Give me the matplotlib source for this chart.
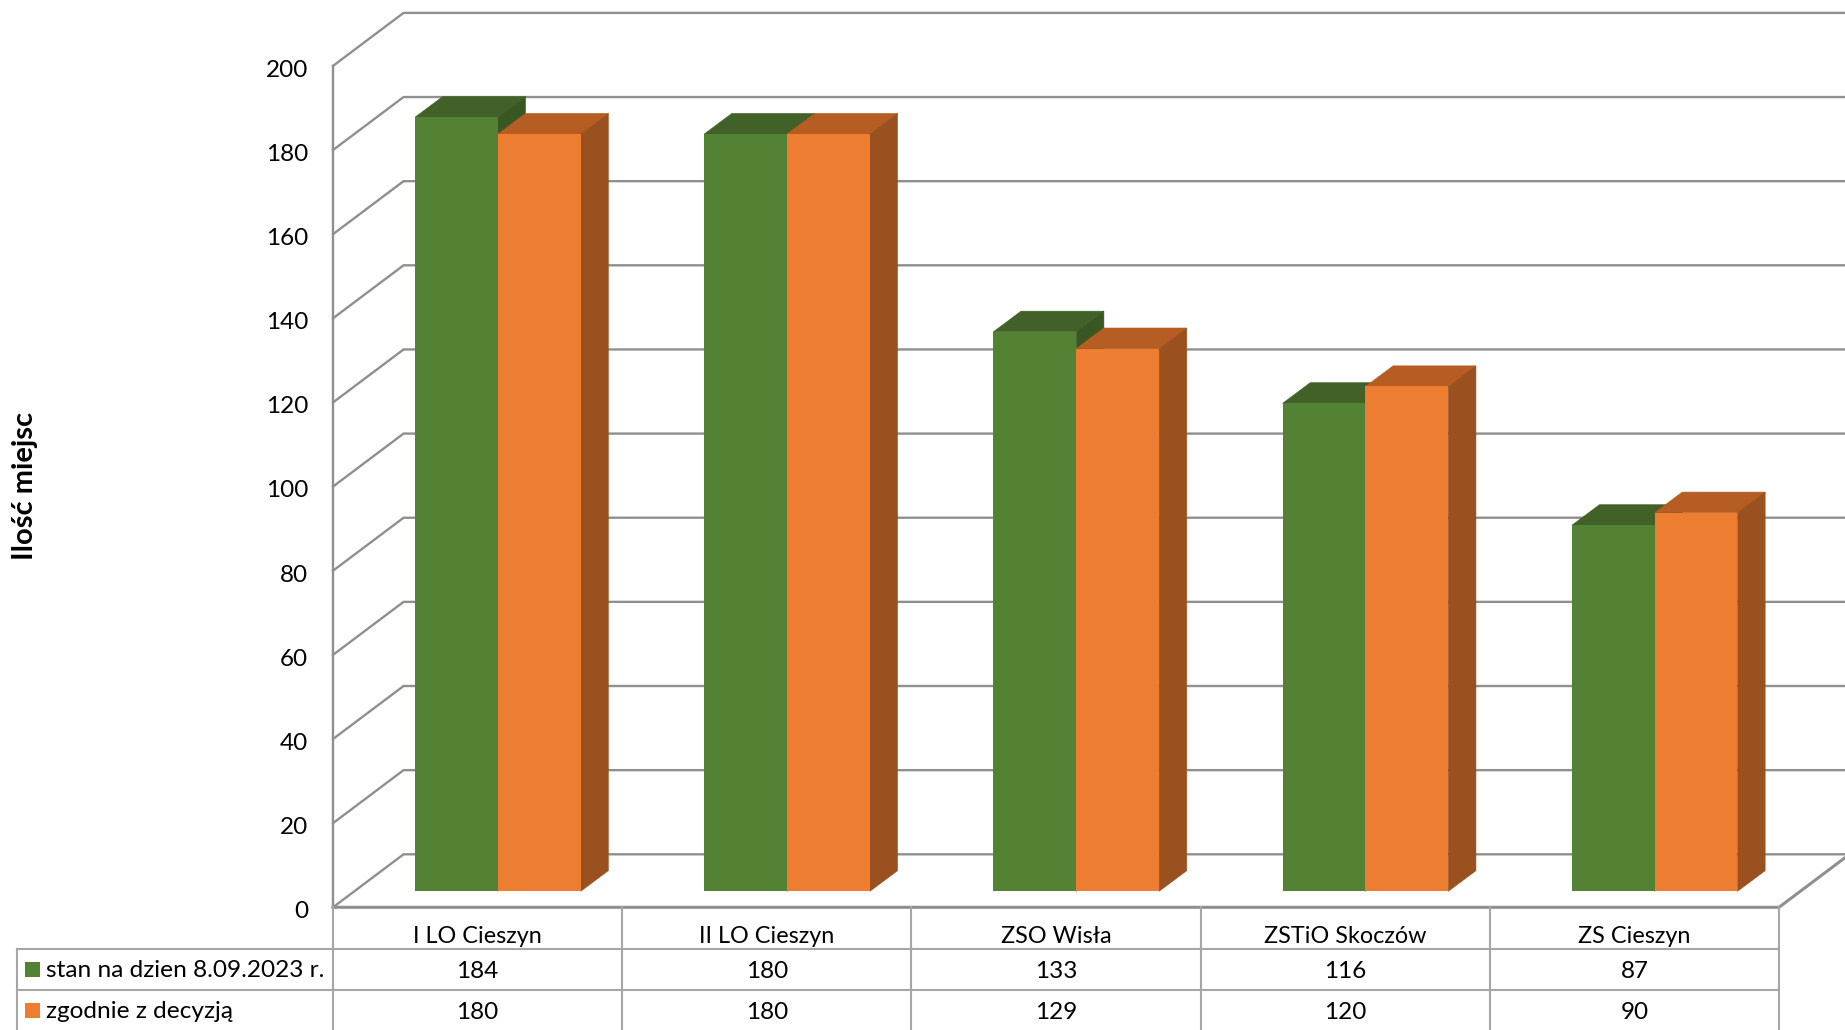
import matplotlib
matplotlib.use("Agg")
import matplotlib.pyplot as plt
from matplotlib.patches import Rectangle
from matplotlib.transforms import ScaledTranslation

plt.rcParams['font.family'] = ['Lato', 'DejaVu Sans']

# dane z wykresu
schools = ['I LO Cieszyn', 'II LO Cieszyn', 'ZSO Wisła', 'ZSTiO Skoczów', 'ZS Cieszyn']
stan = [184, 180, 133, 116, 87]
decyzja = [180, 180, 129, 120, 90]
series_names = ['stan na dzien 8.09.2023 r.', 'zgodnie z decyzją']
y_ticks = list(range(0, 201, 20))

W, H = 1845, 1030
LEFT, RIGHT, Y0, Y200 = 333, 1779, 907.3, 65.9

GRID = '#8f8f8f'
TABLE_LINE = '#a6a6a6'
GREEN = ('#548235', '#426128', '#385723')  # front, top, side
ORANGE = ('#ED7D31', '#B55D22', '#9A501F')

# wall depth and bar depth, in data units
WALL_DX, WALL_DY = 0.244, 12.6
BAR_X, BAR_Y = 0.070, 3.8
DEPTH_X, DEPTH_Y = 0.0956, 4.9
BAR_W = 0.2865

fig = plt.figure(figsize=(W / 100, H / 100), dpi=100, facecolor='white')
ax = fig.add_axes([LEFT / W, 1 - Y0 / H, (RIGHT - LEFT) / W, (Y0 - Y200) / H])
ax.set_xlim(0, len(schools))
ax.set_ylim(0, 200)
for s in ax.spines.values():
    s.set_visible(False)
ax.patch.set_alpha(0)
ax.set_xticks([])
ax.set_yticks(y_ticks)
ax.tick_params(axis='y', length=0, pad=18, labelsize=17.5, colors='black')
# tick labels sit a bit lower in the original
for lab in ax.get_yticklabels():
    lab.set_transform(lab.get_transform() + ScaledTranslation(0, -2.4 / 100, fig.dpi_scale_trans))
x_end = 5.5  # past the figure edge

# walls
for v in y_ticks:
    ax.plot([0, WALL_DX, x_end], [v, v + WALL_DY, v + WALL_DY], color=GRID, lw=1.7,
            clip_on=False, zorder=1, solid_joinstyle='miter')
ax.plot([0, 0], [0, 200], color=GRID, lw=1.7, clip_on=False, zorder=1)
ax.plot([0, 5, 5 + WALL_DX], [0, 0, WALL_DY], color=GRID, lw=2.2, clip_on=False, zorder=1)


def draw_bar(x, v, cols, z):
    x0, x1 = x + BAR_X, x + BAR_X + BAR_W
    y0, y1 = BAR_Y, BAR_Y + v
    ax.fill([x0, x1, x1 + DEPTH_X, x0 + DEPTH_X], [y1, y1, y1 + DEPTH_Y, y1 + DEPTH_Y],
            color=cols[1], lw=0.4, clip_on=False, zorder=z)
    ax.fill([x1, x1 + DEPTH_X, x1 + DEPTH_X, x1], [y0, y0 + DEPTH_Y, y1 + DEPTH_Y, y1],
            color=cols[2], lw=0.4, clip_on=False, zorder=z)
    ax.fill([x0, x1, x1, x0], [y0, y0, y1, y1], color=cols[0], lw=0, clip_on=False, zorder=z)


for i in range(len(schools)):
    draw_bar(i + 0.5 - BAR_W, stan[i], GREEN, 3)
    draw_bar(i + 0.5, decyzja[i], ORANGE, 4)

# tabela danych pod wykresem
tb = fig.add_axes([LEFT / W, 0, (RIGHT - LEFT) / W, (H - Y0) / H])
tb.set_xlim(0, len(schools))
tb.set_ylim((H - Y0) / 41.2, 0)
tb.axis('off')
x_left = (16.5 - LEFT) / ((RIGHT - LEFT) / 5)
for c in range(len(schools) + 1):
    tb.plot([c, c], [0, 3], color=TABLE_LINE, lw=1.5, clip_on=False)
for r in [1, 2]:
    tb.plot([x_left, 5], [r, r], color=TABLE_LINE, lw=1.5, clip_on=False)
tb.plot([x_left, x_left], [1, 3], color=TABLE_LINE, lw=1.5, clip_on=False)

for i, name in enumerate(schools):
    tb.text(i + 0.5, 0.70, name, ha='center', va='center', fontsize=16.8)
    tb.text(i + 0.5, 1.55, str(stan[i]), ha='center', va='center', fontsize=17.5)
    tb.text(i + 0.5, 2.55, str(decyzja[i]), ha='center', va='center', fontsize=17.5)

sq_w = 15 / ((RIGHT - LEFT) / 5)
sq_x = (25 - LEFT) / ((RIGHT - LEFT) / 5)
txt_x = (46 - LEFT) / ((RIGHT - LEFT) / 5)
for r, (name, col) in enumerate(zip(series_names, [GREEN[0], ORANGE[0]])):
    tb.add_patch(Rectangle((sq_x, r + 1.32), sq_w, 0.36, color=col, lw=0, clip_on=False))
    tb.text(txt_x, r + 1.53, name, ha='left', va='center', fontsize=17.6)

fig.text(25 / W, 1 - 486 / H, 'Ilość miejsc', rotation=90, ha='center', va='center',
         fontsize=21, fontweight='bold')

fig.savefig('out.png', dpi=100)
